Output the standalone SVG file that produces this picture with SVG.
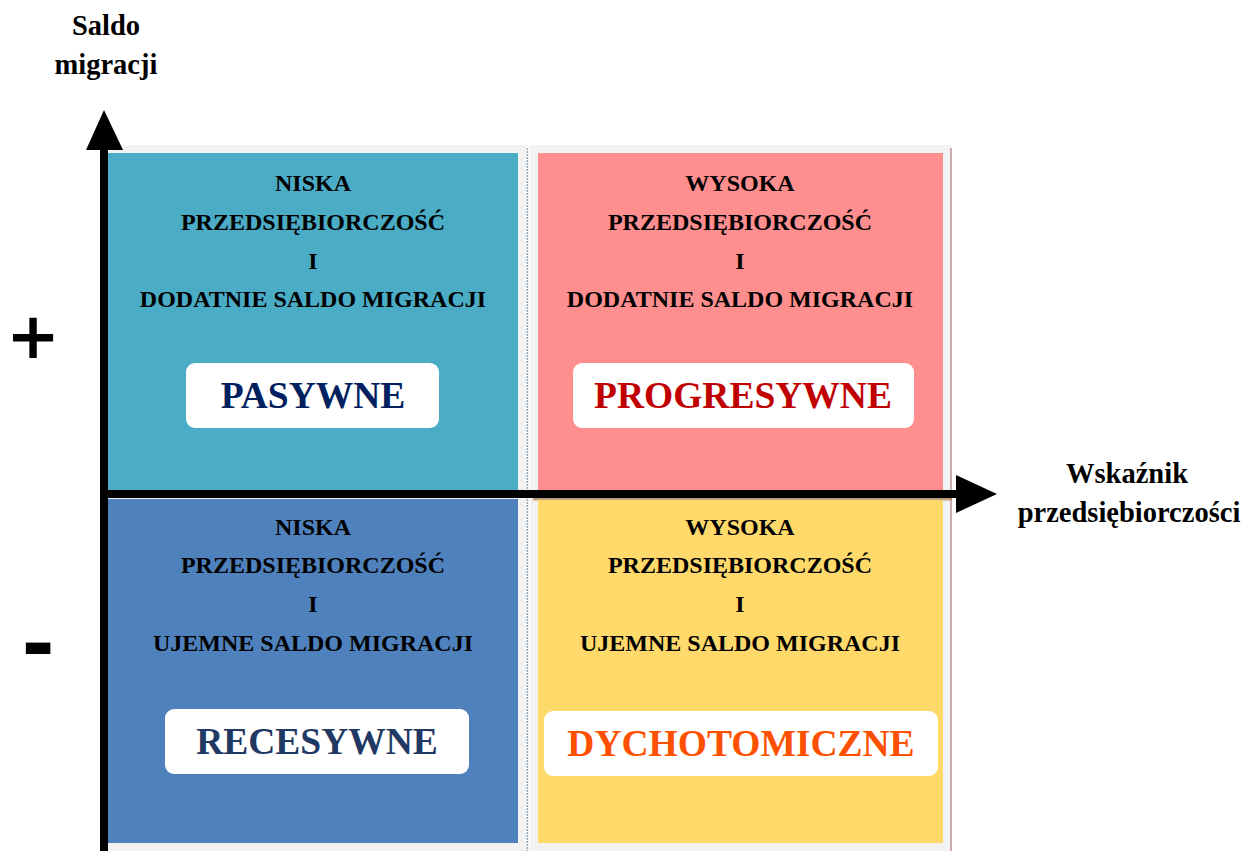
<svg xmlns="http://www.w3.org/2000/svg" width="1244" height="851" viewBox="0 0 1244 851">
<style>
.t{font-family:"Liberation Serif","Times New Roman",serif;font-weight:bold;font-size:24px;fill:#000;text-anchor:middle}
.ax{font-family:"Liberation Serif","Times New Roman",serif;font-weight:bold;font-size:28.5px;fill:#000;text-anchor:middle}
.big{font-family:"Liberation Serif","Times New Roman",serif;font-weight:bold;font-size:37.5px;text-anchor:middle}
.sg{font-family:"DejaVu Sans",sans-serif;font-weight:bold;fill:#000;text-anchor:middle}
.box{fill:#fff}
.panel{fill:#f2f2f2}
</style>
<rect width="1244" height="851" fill="#fff"/>
<g id="panels">
<rect class="panel" x="100" y="145" width="427" height="706"/>
<rect class="panel" x="530" y="145" width="421" height="706"/>
<line x1="527.5" y1="148" x2="527.5" y2="851" stroke="#8fa3b3" stroke-width="1.5" stroke-dasharray="2 1"/>
<line x1="951" y1="148" x2="951" y2="851" stroke="#b89090" stroke-width="1.5"/>
<line x1="533" y1="499" x2="952" y2="499" stroke="#b08a60" stroke-width="3" opacity="0.8"/>
</g>
<g id="q-pasywne">
<rect x="107" y="153" width="411" height="342" fill="#4BACC6"/>
<text class="t" x="313" y="191">NISKA</text>
<text class="t" x="313" y="229.5">PRZEDSIĘBIORCZOŚĆ</text>
<text class="t" x="313" y="268.5">I</text>
<text class="t" x="313" y="307">DODATNIE SALDO MIGRACJI</text>
<rect class="box" x="186" y="363" width="253" height="65" rx="9"/>
<text class="big" x="313" y="408" fill="#002060">PASYWNE</text>
</g>
<g id="q-progresywne">
<rect x="538" y="153" width="405" height="342" fill="#FF8E8E"/>
<text class="t" x="740" y="191">WYSOKA</text>
<text class="t" x="740" y="229.5">PRZEDSIĘBIORCZOŚĆ</text>
<text class="t" x="740" y="268.5">I</text>
<text class="t" x="740" y="307">DODATNIE SALDO MIGRACJI</text>
<rect class="box" x="573" y="363" width="341" height="65" rx="9"/>
<text class="big" x="743" y="408" fill="#C00000">PROGRESYWNE</text>
</g>
<g id="q-recesywne">
<rect x="107" y="499" width="411" height="344" fill="#4F81BD"/>
<text class="t" x="313" y="535">NISKA</text>
<text class="t" x="313" y="573">PRZEDSIĘBIORCZOŚĆ</text>
<text class="t" x="313" y="612">I</text>
<text class="t" x="313" y="651">UJEMNE SALDO MIGRACJI</text>
<rect class="box" x="165" y="709" width="304" height="65" rx="9"/>
<text class="big" x="317" y="754" fill="#1F3864">RECESYWNE</text>
</g>
<g id="q-dychotomiczne">
<rect x="538" y="500" width="405" height="343" fill="#FFD96A"/>
<text class="t" x="740" y="535">WYSOKA</text>
<text class="t" x="740" y="573">PRZEDSIĘBIORCZOŚĆ</text>
<text class="t" x="740" y="612">I</text>
<text class="t" x="740" y="651">UJEMNE SALDO MIGRACJI</text>
<rect class="box" x="544" y="711" width="394" height="65" rx="9"/>
<text class="big" x="741" y="756" fill="#FF5000">DYCHOTOMICZNE</text>
</g>
<g id="axes">
<line x1="104" y1="145" x2="104" y2="851" stroke="#000" stroke-width="8"/>
<polygon points="104,110 86,150 123,150" fill="#000"/>
<line x1="100" y1="494" x2="960" y2="494" stroke="#000" stroke-width="8"/>
<polygon points="997,494 956,475 956,513" fill="#000"/>
</g>
<g id="labels">
<text class="ax" x="106" y="35">Saldo</text>
<text class="ax" x="106" y="74">migracji</text>
<text class="ax" x="1127" y="483">Wskaźnik</text>
<text class="ax" x="1129" y="522">przedsiębiorczości</text>
<text class="sg" x="33" y="358" font-size="64">+</text>
<text class="sg" x="38" y="671" font-size="80">-</text>
</g>
</svg>
